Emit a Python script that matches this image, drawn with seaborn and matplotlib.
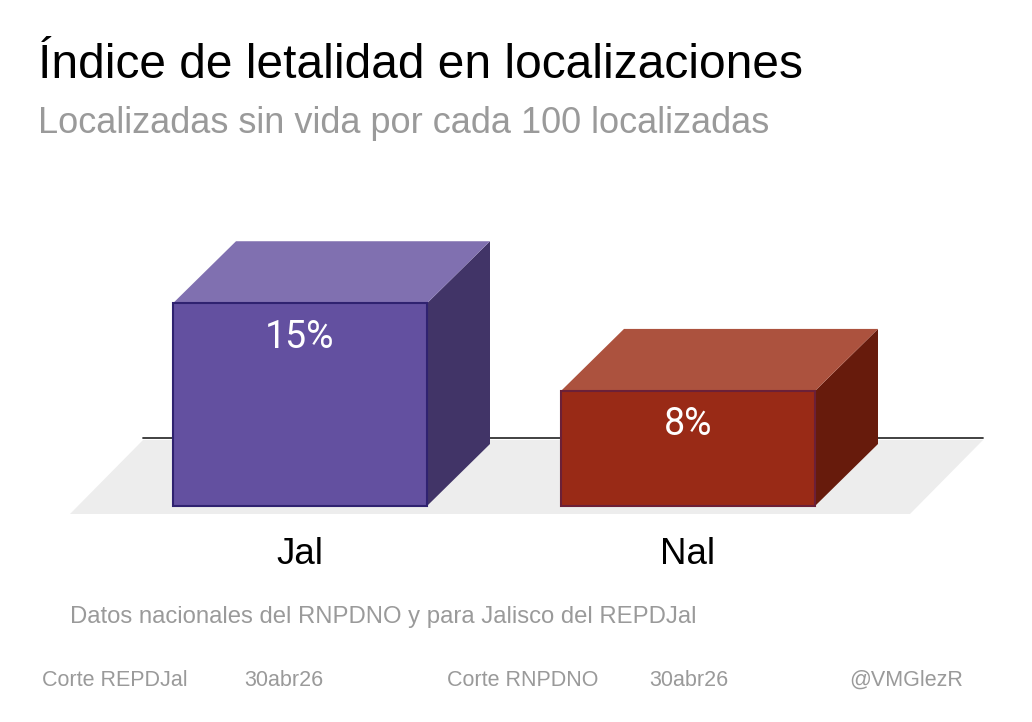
import matplotlib
matplotlib.use("Agg")
import matplotlib.pyplot as plt
import seaborn as sns
from matplotlib.patches import Polygon

# data
categories = ["Jal", "Nal"]
values = [14.8, 8.4]          # localizadas sin vida por cada 100
front_colors = ["#6350a0", "#992a16"]
top_colors = ["#8070b0", "#ac523e"]
side_colors = ["#413467", "#671b0c"]
edge_colors = ["#2f2270", "#6b2038"]

W, H = 1032, 722
PX_X = 388.0      # pixels per category step
PX_Y = 13.7       # pixels per percentage point
X0_PX = 300.0     # pixel x of first category
Y0_PX = 216.0     # pixel y (from bottom) of zero
DEPTH = (63, 62)  # 3d depth offset in pixels

sns.set_theme(style="white")
plt.rcParams["font.family"] = ["Liberation Sans", "DejaVu Sans"]

fig = plt.figure(figsize=(W / 100, H / 100), dpi=100)
ax = fig.add_axes([0, 0, 1, 1])


def px(x, y_top):
    """pixel position (from top-left) -> data coords"""
    return ((x - X0_PX) / PX_X, (H - y_top - Y0_PX) / PX_Y)


sns.barplot(x=categories, y=values, hue=categories, palette=front_colors,
            saturation=1, width=254 / PX_X, legend=False, ax=ax, zorder=3)
ax.set_xlim(-X0_PX / PX_X, (W - X0_PX) / PX_X)
ax.set_ylim(-Y0_PX / PX_Y, (H - Y0_PX) / PX_Y)
ax.axis("off")
bars = [b for c in ax.containers for b in c]

# floor and back baseline
floor = [px(70, 514), px(143, 440), px(983, 440), px(910, 514)]
ax.add_patch(Polygon(floor, closed=True, facecolor="#ededed", edgecolor="none", zorder=0))
bx0, by = px(143, 438)
bx1, _ = px(983, 438)
ax.plot([bx0, bx1], [by, by], color="#333333", lw=1.3, zorder=1)

dx = DEPTH[0] / PX_X
dy = DEPTH[1] / PX_Y
for i, p in enumerate(bars):
    x0, w, h = p.get_x(), p.get_width(), p.get_height()
    p.set_edgecolor(edge_colors[i])
    p.set_linewidth(1.5)
    side = [(x0 + w, 0), (x0 + w + dx, dy), (x0 + w + dx, h + dy), (x0 + w, h)]
    top = [(x0, h), (x0 + dx, h + dy), (x0 + w + dx, h + dy), (x0 + w, h)]
    ax.add_patch(Polygon(side, closed=True, facecolor=side_colors[i], edgecolor="none", zorder=2))
    ax.add_patch(Polygon(top, closed=True, facecolor=top_colors[i], edgecolor="none", zorder=2))
    ax.annotate(f"{values[i]:.0f}%", xy=(x0 + w / 2, h), xytext=(0, -24.5),
                textcoords="offset points", ha="center", va="center",
                color="white", fontsize=27, family=["Roboto", "DejaVu Sans"], zorder=5)
    ax.annotate(categories[i], xy=(x0 + w / 2, 0), xytext=(0, -35),
                textcoords="offset points", ha="center", va="center",
                color="black", fontsize=26.5)

fig.text(38 / W, 1 - 78 / H, "Índice de letalidad en localizaciones",
         fontsize=34.5, color="black", va="baseline")
fig.text(38 / W, 1 - 133 / H, "Localizadas sin vida por cada 100 localizadas",
         fontsize=26, color="#9a9a9a", va="baseline")
fig.text(70 / W, 1 - 623 / H, "Datos nacionales del RNPDNO y para Jalisco del REPDJal",
         fontsize=17.2, color="#9a9a9a", va="baseline")

footer = [(42, "Corte REPDJal"), (244, "30abr26"), (447, "Corte RNPDNO"),
          (649, "30abr26"), (849, "@VMGlezR")]
for xp, t in footer:
    fig.text(xp / W, 1 - 686 / H, t, fontsize=15.5, color="#9a9a9a", va="baseline")

fig.savefig("out.png", dpi=100)
